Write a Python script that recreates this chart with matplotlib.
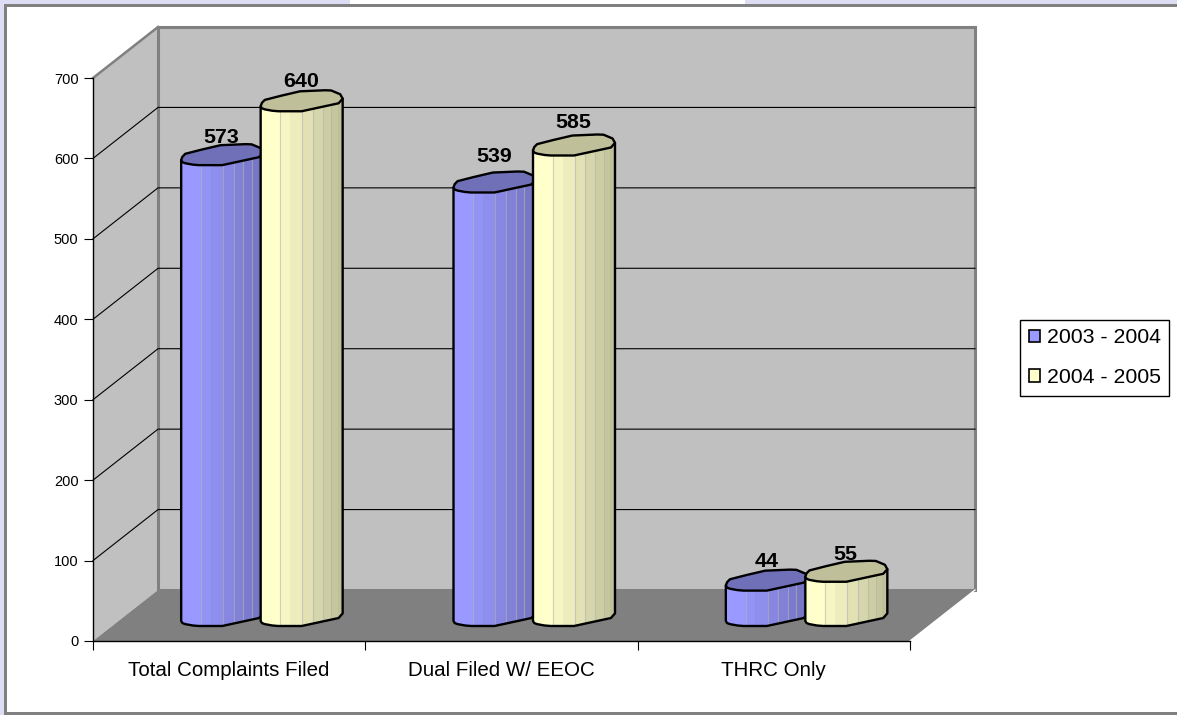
import numpy as np
import matplotlib
matplotlib.use("Agg")
import matplotlib.pyplot as plt
from matplotlib.patches import Polygon, Patch, Rectangle

plt.rcParams["font.family"] = ["Liberation Sans", "DejaVu Sans"]

# Chart data
categories = ["Total Complaints Filed", "Dual Filed W/ EEOC", "THRC Only"]
series_names = ["2003 - 2004", "2004 - 2005"]
values_2003_2004 = [573, 539, 44]
values_2004_2005 = [640, 585, 55]
y_ticks = [0, 100, 200, 300, 400, 500, 600, 700]

# Canvas and plot geometry, in pixels
W, H = 1177, 715
FRONT_L, FRONT_R, FRONT_B, FRONT_T = 93, 910, 641, 78
DEPTH_X_PX, DEPTH_Y_PX = 65, 51
BAR_DEPTH = 0.5
BAR_HALF_PX = 41
CAP_HALF_PX = 10.5

# Faceted outline of a cylinder end, as fractions of its half width and height
CAP_UPPER = [(-1.0, -0.52), (-0.97, -0.2), (-0.9, 0.08), (-0.5, 0.48), (-0.04, 0.9),
             (0.57, 1.0), (0.72, 0.98), (0.94, 0.62), (1.0, 0.2)]
CAP_LOWER = [(0.9, -0.24), (0.45, -0.62), (0.0, -1.0), (-0.57, -1.0), (-0.72, -0.95),
             (-0.9, -0.82), (-0.97, -0.72)]
STRIP_EDGES = np.array([0, 0.12, 0.24, 0.36, 0.51, 0.64, 0.76, 0.86, 0.94, 1.0])
DIVIDERS = [0.24, 0.51, 0.64, 0.76, 0.86]
LABEL_LIFT_PX = [[-3, -1], [5, 2], [-1, -3]]

BLUE = ("#9999FF", "#7373BF", "#7070B8")
YELLOW = ("#FFFFCC", "#BFBF99", "#BFBF99")
WALL, FLOOR, EDGE = "#C0C0C0", "#808080", "#808080"
PAGE = "#DDDDF3"

fig = plt.figure(figsize=(W / 100, H / 100), dpi=100, facecolor="white")


def page_rect(x0, y0, x1, y1, color):
    fig.add_artist(Rectangle((x0 / W, 1 - y1 / H), (x1 - x0) / W, (y1 - y0) / H,
                             transform=fig.transFigure, fc=color, ec="none"))


# Page strips and the grey frame around the chart
page_rect(0, 0, 350, 4, PAGE)
page_rect(745, 0, W, 4, PAGE)
page_rect(0, 0, 4, H, PAGE)
page_rect(4, 4, W, 7, EDGE)
page_rect(4, 4, 7, H, EDGE)
page_rect(4, 712, W, H, EDGE)

ax = fig.add_axes([FRONT_L / W, 1 - FRONT_B / H,
                   (FRONT_R - FRONT_L) / W, (FRONT_B - FRONT_T) / H])
ax.set_xlim(0, len(categories))
ax.set_ylim(0, y_ticks[-1])
ax.patch.set_visible(False)

px_x = len(categories) / (FRONT_R - FRONT_L)
px_y = y_ticks[-1] / (FRONT_B - FRONT_T)
dx, dy = DEPTH_X_PX * px_x, DEPTH_Y_PX * px_y
n, top = len(categories), y_ticks[-1]

# Side wall, back wall and floor
ax.add_patch(Polygon([(0, 0), (dx, dy), (dx, top + dy), (0, top)], closed=True, fc=WALL,
                     ec="none", clip_on=False, zorder=1))
ax.add_patch(Rectangle((dx, dy), n, top, fc=WALL, ec=EDGE, lw=2.2, clip_on=False, zorder=1))
ax.add_patch(Polygon([(0, 0), (n, 0), (n + dx, dy), (dx, dy)], closed=True, fc=FLOOR,
                     ec="none", clip_on=False, zorder=1.2))
ax.plot([0, dx], [top, top + dy], color=EDGE, lw=1.8, clip_on=False, zorder=1.3)
ax.plot([n, n + dx], [0, dy], color="white", lw=1, clip_on=False, zorder=1.3)

# Gridlines run along the side wall and across the back wall
for t in y_ticks[1:-1]:
    ax.plot([0, dx, n + dx], [t, t + dy, t + dy], color="black", lw=0.8,
            clip_on=False, zorder=1.5)


def cylinder(center, value, colors, z):
    light, dark, cap = colors
    hw, hh = BAR_HALF_PX * px_x, CAP_HALF_PX * px_y
    base = BAR_DEPTH * dy
    cx = center + BAR_DEPTH * dx
    top_y = base + value

    lower = [(cx + u * hw, base + v * hh) for u, v in reversed(CAP_LOWER)]
    left_corner = (cx + CAP_UPPER[0][0] * hw, base + CAP_UPPER[0][1] * hh)
    right_corner = (cx + CAP_UPPER[-1][0] * hw, base + CAP_UPPER[-1][1] * hh)
    outline = ([(cx - hw, top_y + CAP_UPPER[0][1] * hh), left_corner] + lower + [right_corner]
               + [(cx + hw, top_y + CAP_UPPER[-1][1] * hh)])
    cap_pts = [(cx + u * hw, top_y + v * hh) for u, v in CAP_UPPER + CAP_LOWER]

    body = Polygon(outline + cap_pts[:len(CAP_UPPER)][::-1], closed=True, fc="none", ec="none",
                   clip_on=False, zorder=z)
    ax.add_patch(body)

    # Vertical shading bands, light on the left and dark on the right
    c0, c1 = np.array(matplotlib.colors.to_rgb(light)), np.array(matplotlib.colors.to_rgb(dark))
    for i in range(len(STRIP_EDGES) - 1):
        mix = max(0.0, (STRIP_EDGES[i] - 0.12) / (STRIP_EDGES[-2] - 0.12))
        x0 = cx - hw + 2 * hw * STRIP_EDGES[i]
        x1 = cx - hw + 2 * hw * STRIP_EDGES[i + 1]
        band = Rectangle((x0, 0), x1 - x0, top + dy, fc=c0 + (c1 - c0) * mix, ec="none",
                         zorder=z, clip_on=True)
        ax.add_patch(band)
        band.set_clip_path(body)
    for f in DIVIDERS:
        x = cx - hw + 2 * hw * f
        line, = ax.plot([x, x], [0, top + dy], color="#B4B4B4", lw=0.8, alpha=0.6, zorder=z)
        line.set_clip_path(body)

    ax.add_patch(Polygon(outline, closed=False, fc="none", ec="black", lw=1.7, joinstyle="round",
                         capstyle="round", clip_on=False, zorder=z + 0.1))
    ax.add_patch(Polygon(cap_pts, closed=True, fc=cap, ec="black", lw=1.7, joinstyle="round",
                         clip_on=False, zorder=z + 0.2))
    return cx, top_y + hh


# One pair of cylinders per category; the later series overlaps the earlier one
for i, (a, b) in enumerate(zip(values_2003_2004, values_2004_2005)):
    for j, (val, colors, shift) in enumerate(((a, BLUE, -39.5), (b, YELLOW, 40))):
        x, y = cylinder(i + 0.5 + shift * px_x, val, colors, 2 + j)
        ax.annotate(str(val), (x, y), xytext=(-0.4, LABEL_LIFT_PX[i][j] * 0.72),
                    textcoords="offset points", ha="center", va="bottom",
                    fontsize=15.4, fontweight="bold", annotation_clip=False, zorder=6)

# Axes, ticks and labels
for s in ("top", "right"):
    ax.spines[s].set_visible(False)
for s in ("left", "bottom"):
    ax.spines[s].set_linewidth(1.0)
    ax.spines[s].set_zorder(5)
ax.set_yticks(y_ticks)
ax.tick_params(axis="y", length=6.5, width=0.8, pad=4, labelsize=10.5)
ax.set_xticks(range(n + 1))
ax.set_xticklabels([])
ax.tick_params(axis="x", which="major", length=6.5, width=0.8)
ax.set_xticks(np.arange(n) + 0.5, minor=True)
ax.set_xticklabels(categories, minor=True)
ax.tick_params(axis="x", which="minor", length=0, pad=14.5, labelsize=14.8)

# Legend
handles = [Patch(fc=BLUE[0], ec="black", lw=1.2), Patch(fc=YELLOW[0], ec="black", lw=1.2)]
leg = fig.legend(handles, series_names, loc="upper left",
                 bbox_to_anchor=(1020 / W, 1 - 320 / H), borderaxespad=0,
                 fontsize=15.3, frameon=True, fancybox=False, edgecolor="black",
                 framealpha=1, handlelength=0.56, handleheight=0.56, handletextpad=0.3,
                 labelspacing=0.97, borderpad=0.4)
leg.get_frame().set_linewidth(1.0)

fig.savefig("out.png", dpi=100)
